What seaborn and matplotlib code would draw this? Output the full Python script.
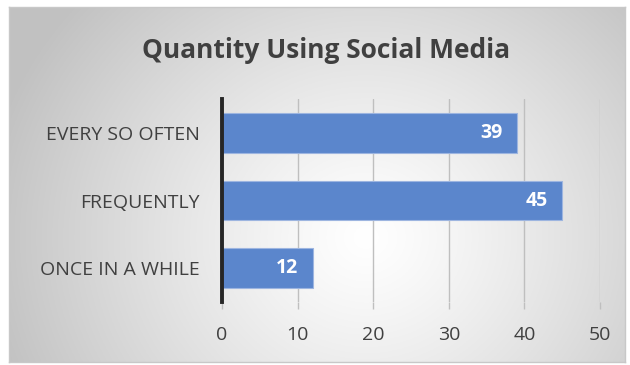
import numpy as np
import pandas as pd
import matplotlib
matplotlib.use("Agg")
import matplotlib.pyplot as plt
import seaborn as sns

categories = ["EVERY SO OFTEN", "FREQUENTLY", "ONCE IN A WHILE"]
values = [39, 45, 12]
xticks = [0, 10, 20, 30, 40, 50]
title = "Quantity Using Social Media"

sns.set_theme(style="white")
plt.rcParams['font.family'] = ['Open Sans', 'DejaVu Sans']

fig = plt.figure(figsize=(6.3, 3.65), dpi=100)
fig.patch.set_facecolor("white")

# background frame with radial gradient
W, H = 630, 365
fx0, fx1, fy0, fy1 = 9, 625, 7, 362
bg = fig.add_axes([fx0 / W, 1 - fy1 / H, (fx1 - fx0) / W, (fy1 - fy0) / H])
nx, ny = 400, 240
xx, yy = np.meshgrid(np.linspace(0, 1, nx), np.linspace(0, 1, ny))
cx, cy = 0.58, 0.65
r = np.sqrt(((xx - cx) * 1.6) ** 2 + ((yy - cy) * 1.0) ** 2)
r = np.clip(r / 1.0, 0, 1)
val = 1.0 - 0.24 * r ** 1.2
img = np.dstack([val, val, val])
bg.imshow(img, extent=[0, 1, 0, 1], aspect="auto", origin="upper")
bg.set_xlim(0, 1); bg.set_ylim(0, 1)
bg.set_xticks([]); bg.set_yticks([])
for s in bg.spines.values():
    s.set_color("#c8c8c8"); s.set_linewidth(1.0)

ax = fig.add_axes([222 / W, 1 - 302 / H, (600 - 222) / W, (302 - 99) / H])
ax.set_facecolor("none")
ax.patch.set_alpha(0)

df = pd.DataFrame({"cat": categories, "val": values})
sns.barplot(data=df, x="val", y="cat", ax=ax, color="#5B86CC", width=0.59,
            saturation=1, edgecolor="#9db5e0", linewidth=0.8, zorder=3)

ax.set_xlim(0, 50)
ax.set_xticks(xticks)
ax.set_xticklabels([str(t) for t in xticks])
ax.xaxis.grid(True, color="#bfbfbf", linewidth=1.0, zorder=0)
ax.set_axisbelow(True)
ax.set_xlabel(""); ax.set_ylabel("")
for s in ["top", "right", "bottom"]:
    ax.spines[s].set_visible(False)
ax.spines["left"].set_color("#262626")
ax.spines["left"].set_linewidth(2.8)
ax.spines["left"].set_zorder(5)
ax.tick_params(axis="x", bottom=True, length=5, width=1, color="#bfbfbf",
               labelsize=14, labelcolor="#404040", pad=12)
ax.tick_params(axis="y", left=False, labelsize=14, labelcolor="#404040", pad=10)

for i, v in enumerate(values):
    ax.text(v - 1.95, i, str(v), ha="right", va="center", color="white",
            fontsize=14, fontweight="bold", zorder=6)

fig.text(0.5 * (140 + 512) / W, 1 - 50 / H, title, ha="center", va="center",
         fontsize=19, fontweight="bold", color="#404040")

fig.savefig("out.png", dpi=100)
